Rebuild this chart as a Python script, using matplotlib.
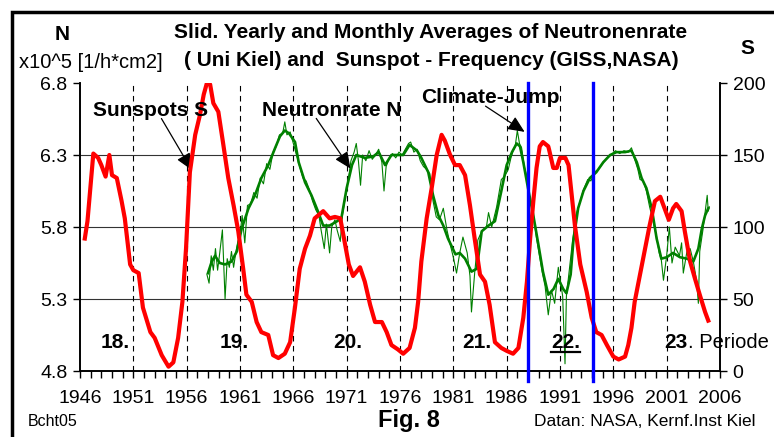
import matplotlib
matplotlib.use("Agg")
import matplotlib.pyplot as plt
from matplotlib.patches import Rectangle

plt.rcParams['font.family'] = ['Liberation Sans', 'DejaVu Sans']

# Sunspot frequency S (sliding yearly average, GISS/NASA) - right axis
sun_year = [1946.45, 1946.7, 1947.25, 1947.7, 1948.0, 1948.4, 1948.75, 1949.0, 1949.45, 1949.9,
            1950.2, 1950.7, 1951.0, 1951.5, 1951.9, 1952.6, 1953.0, 1953.66, 1954.3, 1954.75,
            1955.2, 1955.6, 1955.94, 1956.3, 1956.8, 1957.25, 1957.6, 1957.9, 1958.2, 1958.5,
            1958.97, 1959.4, 1959.9, 1960.4, 1960.84, 1961.3, 1961.6, 1962.1, 1962.56, 1963.0,
            1963.65, 1964.1, 1964.6, 1965.2, 1965.7, 1966.15, 1966.6, 1967.1, 1967.56, 1968.0,
            1968.8, 1969.4, 1969.9, 1970.4, 1970.7, 1971.2, 1971.6, 1972.25, 1972.7, 1973.2,
            1973.66, 1974.3, 1974.75, 1975.2, 1975.8, 1976.3, 1976.9, 1977.4, 1977.7, 1978.0,
            1978.5, 1978.97, 1979.44, 1979.9, 1980.2, 1980.7, 1981.16, 1981.6, 1982.1, 1982.56,
            1983.0, 1983.5, 1983.97, 1984.4, 1984.9, 1985.5, 1986.0, 1986.6, 1987.1, 1987.56,
            1987.9, 1988.2, 1988.5, 1988.8, 1989.1, 1989.4, 1989.9, 1990.0, 1990.37, 1990.7,
            1991.0, 1991.5, 1991.8, 1992.1, 1992.4, 1992.9, 1993.5, 1993.97, 1994.4, 1994.9,
            1995.4, 1996.0, 1996.5, 1997.1, 1997.4, 1997.7, 1998.0, 1998.5, 1998.97, 1999.4,
            1999.9, 2000.4, 2000.7, 2001.2, 2001.6, 2001.9, 2002.4, 2002.7, 2003.2, 2003.66,
            2004.1, 2004.6, 2004.9]
sun_val = [92, 104, 151, 148, 143, 135, 150, 136, 134, 118,
           106, 74, 70, 68, 44, 27, 23, 11, 3, 6,
           23, 48, 85, 138, 164, 178, 192, 200, 199, 186,
           180, 159, 134, 115, 97, 71, 53, 48, 34, 27,
           25, 11, 9, 12, 20, 44, 71, 85, 94, 106,
           111, 106, 107, 106, 94, 74, 66, 72, 62, 46,
           34, 34, 27, 18, 15, 12, 16, 30, 48, 76,
           106, 127, 150, 164, 160, 150, 143, 143, 136, 115,
           92, 67, 62, 46, 20, 16, 14, 12, 16, 37,
           62, 92, 118, 141, 156, 159, 156, 153, 141, 141,
           148, 148, 143, 122, 101, 74, 55, 37, 27, 25,
           18, 10, 8, 10, 18, 30, 48, 67, 85, 101,
           118, 121, 115, 105, 113, 116, 111, 97, 76, 64,
           53, 41, 35]

# Neutron rate N, sliding yearly average (Uni Kiel) - left axis
neu_year = [1958.0, 1958.35, 1958.66, 1959.1, 1959.6, 1960.2, 1960.7, 1961.16, 1961.8, 1962.4,
            1963.0, 1963.65, 1964.3, 1964.75, 1965.2, 1965.6, 1966.16, 1966.5, 1967.1, 1967.7,
            1968.3, 1968.8, 1969.4, 1970.1, 1970.5, 1971.0, 1971.5, 1971.9, 1972.7, 1973.5,
            1974.0, 1974.6, 1975.2, 1975.9, 1976.3, 1976.9, 1977.6, 1978.0, 1978.65, 1979.1,
            1979.6, 1980.06, 1980.5, 1981.2, 1981.6, 1982.1, 1982.7, 1983.2, 1983.66, 1984.3,
            1984.9, 1985.5, 1986.0, 1986.5, 1986.94, 1987.25, 1987.56, 1988.0, 1988.5, 1988.97,
            1989.4, 1989.9, 1990.4, 1990.84, 1991.3, 1991.6, 1992.0, 1992.25, 1992.7, 1993.2,
            1993.8, 1994.4, 1995.06, 1995.7, 1996.3, 1997.1, 1997.7, 1998.2, 1998.65, 1999.1,
            1999.6, 2000.06, 2000.5, 2001.0, 2001.6, 2002.25, 2002.9, 2003.5, 2003.97, 2004.3,
            2004.6, 2004.9]
neu_val = [5.48, 5.56, 5.60, 5.55, 5.54, 5.56, 5.63, 5.79, 5.93, 6.02,
           6.14, 6.23, 6.35, 6.43, 6.47, 6.45, 6.39, 6.25, 6.11, 6.02,
           5.91, 5.81, 5.81, 5.84, 5.86, 6.07, 6.23, 6.30, 6.28, 6.29,
           6.32, 6.23, 6.30, 6.30, 6.30, 6.37, 6.33, 6.28, 6.18, 6.02,
           5.88, 5.81, 5.72, 5.61, 5.62, 5.58, 5.49, 5.51, 5.77, 5.81,
           5.84, 6.05, 6.23, 6.32, 6.38, 6.36, 6.25, 6.07, 5.88, 5.68,
           5.49, 5.33, 5.37, 5.44, 5.37, 5.34, 5.47, 5.70, 5.93, 6.05,
           6.14, 6.18, 6.25, 6.30, 6.32, 6.32, 6.33, 6.25, 6.14, 6.07,
           5.93, 5.72, 5.58, 5.59, 5.62, 5.59, 5.58, 5.56, 5.65, 5.79,
           5.88, 5.93]

# Neutron rate N, monthly values - thin line
mon_year = [1957.9, 1958.1, 1958.3, 1958.5, 1958.7, 1958.9, 1959.1, 1959.35, 1959.5, 1959.6,
            1959.8, 1960.0, 1960.2, 1960.4, 1960.6, 1960.8, 1961.0, 1961.2, 1961.45, 1961.7,
            1962.0, 1962.3, 1962.6, 1962.9, 1963.2, 1963.5, 1963.8, 1964.1, 1964.4, 1964.7,
            1965.0, 1965.2, 1965.4, 1965.7, 1966.0, 1966.3, 1966.6, 1966.9, 1967.2, 1967.5,
            1967.8, 1968.1, 1968.4, 1968.6, 1968.9, 1969.1, 1969.4, 1969.6, 1969.9, 1970.1,
            1970.4, 1970.6, 1970.9, 1971.2, 1971.4, 1971.7, 1971.9, 1972.1, 1972.3, 1972.5,
            1972.8, 1973.1, 1973.4, 1973.7, 1974.0, 1974.3, 1974.5, 1974.7, 1975.0, 1975.3,
            1975.6, 1975.9, 1976.2, 1976.5, 1976.8, 1977.0, 1977.3, 1977.6, 1977.9, 1978.2,
            1978.5, 1978.8, 1979.1, 1979.4, 1979.7, 1980.06, 1980.4, 1980.7, 1981.0, 1981.3,
            1981.6, 1981.9, 1982.3, 1982.56, 1982.7, 1983.0, 1983.3, 1983.6, 1983.8, 1984.1,
            1984.3, 1984.6, 1985.06, 1985.5, 1985.8, 1986.15, 1986.4, 1986.6, 1986.8, 1987.0,
            1987.2, 1987.4, 1987.65, 1987.9, 1988.2, 1988.5, 1988.8, 1989.1, 1989.35, 1989.6,
            1989.9, 1990.2, 1990.5, 1990.84, 1991.0, 1991.25, 1991.47, 1991.6, 1991.94, 1992.2,
            1992.56, 1992.9, 1993.2, 1993.6, 1993.9, 1994.2, 1994.6, 1995.0, 1995.4, 1995.8,
            1996.2, 1996.6, 1997.0, 1997.4, 1997.7, 1998.0, 1998.3, 1998.5, 1998.8, 1999.1,
            1999.4, 1999.7, 2000.06, 2000.3, 2000.5, 2000.7, 2001.0, 2001.25, 2001.5, 2001.8,
            2002.2, 2002.4, 2002.56, 2002.9, 2003.2, 2003.5, 2003.8, 2003.97, 2004.1, 2004.4,
            2004.6, 2004.8, 2004.9, 2005.0]
mon_val = [5.47, 5.41, 5.60, 5.50, 5.65, 5.50, 5.62, 5.78, 5.50, 5.30,
           5.58, 5.52, 5.63, 5.52, 5.62, 5.70, 5.74, 5.88, 5.69, 5.95,
           5.96, 6.04, 6.00, 6.14, 6.10, 6.24, 6.20, 6.32, 6.36, 6.44,
           6.45, 6.53, 6.44, 6.46, 6.38, 6.30, 6.22, 6.14, 6.12, 6.06,
           5.98, 5.92, 5.88, 5.78, 5.65, 5.82, 5.62, 5.80, 5.85, 5.78,
           5.70, 5.88, 6.02, 6.15, 6.26, 6.32, 6.38, 6.26, 6.09, 6.30,
           6.26, 6.33, 6.27, 6.30, 6.34, 6.25, 6.05, 6.22, 6.28, 6.31,
           6.28, 6.32, 6.30, 6.34, 6.38, 6.39, 6.32, 6.34, 6.26, 6.22,
           6.20, 6.17, 5.98, 5.87, 5.85, 5.93, 5.78, 5.68, 5.59, 5.48,
           5.62, 5.73, 5.62, 5.46, 5.21, 5.48, 5.71, 5.76, 5.78, 5.80,
           5.90, 5.80, 5.94, 6.13, 6.15, 6.20, 6.28, 6.33, 6.36, 6.47,
           6.38, 6.35, 6.22, 6.15, 5.98, 5.89, 5.72, 5.59, 5.48, 5.39,
           5.19, 5.36, 5.27, 5.52, 5.44, 5.32, 4.85, 5.32, 5.55, 5.72,
           5.90, 5.98, 6.06, 6.13, 6.12, 6.18, 6.20, 6.24, 6.28, 6.30,
           6.33, 6.31, 6.33, 6.32, 6.35, 6.27, 6.20, 6.13, 6.12, 6.05,
           5.94, 5.85, 5.73, 5.62, 5.57, 5.43, 5.60, 5.80, 5.55, 5.66,
           5.60, 5.69, 5.48, 5.63, 5.65, 5.56, 5.43, 5.27, 5.63, 5.78,
           5.90, 6.02, 5.91, 5.94]

climate_jump = [1988.0, 1994.05]
periods = ['18.', '19.', '20.', '21.', '22.', '23']
period_x = [1949.3, 1960.5, 1971.1, 1983.2, 1991.5, 2001.9]
year_ticks = list(range(1946, 2007, 5))
n_ticks = [4.8, 5.3, 5.8, 6.3, 6.8]
s_ticks = [0, 50, 100, 150, 200]

W, H = 774, 437
fig = plt.figure(figsize=(W / 100, H / 100), dpi=100)
ax = fig.add_axes([80 / W, 1 - 371 / H, 640 / W, 288 / H])
ax2 = ax.twinx()

def px(x, y):
    return x / W, 1 - y / H

# grid: solid horizontals, dashed verticals
for v in n_ticks[1:-1]:
    ax.axhline(v, color='#333333', lw=0.8, zorder=1)
for yr in year_ticks[1:-1]:
    ax.axvline(yr, color='black', lw=0.8, ls=(0, (5, 4)), zorder=1)

ax.plot(mon_year, mon_val, color='#008000', lw=0.8, zorder=3)
ax.plot(neu_year, neu_val, color='#008000', lw=1.9, zorder=4)
ax2.plot(sun_year, sun_val, color='#ff0000', lw=3.0, zorder=5, solid_joinstyle='round')
for cj in climate_jump:
    ax2.axvline(cj, ymin=-0.035, ymax=1.0, color='#0000ff', lw=2.4, zorder=6, clip_on=False)

ax.set_xlim(1946, 2006)
ax.set_ylim(4.8, 6.8)
ax2.set_ylim(0, 200)
ax.set_xticks(year_ticks)
ax.set_xticks(range(1946, 2007), minor=True)
ax.set_yticks(n_ticks)
ax.set_yticklabels([f'{v:.1f}' for v in n_ticks])
ax2.set_yticks(s_ticks)

for a in (ax, ax2):
    a.spines['top'].set_visible(False)
    for s in ('left', 'right', 'bottom'):
        a.spines[s].set_linewidth(1.2)
ax.tick_params(axis='both', which='both', direction='out', length=5, width=1, labelsize=14, pad=4)
ax.tick_params(axis='x', which='major', pad=9)
ax2.tick_params(axis='y', direction='out', length=5, width=1, labelsize=14, pad=4)

# period labels
for lab, xp in zip(periods, period_x):
    ax2.text(xp, 20, lab, fontsize=15, fontweight='bold', ha='center', va='center', zorder=7)
ax2.plot([1990.2, 1992.85], [13.5, 13.5], color='black', lw=1.6, zorder=7)
ax2.text(2003.0, 20, '. Periode', fontsize=14.5, ha='left', va='center', clip_on=False)

# annotations
arrow = dict(arrowstyle='-|>,head_length=1.0,head_width=0.45', color='black', lw=0.9)
ax2.text(1952.6, 181, 'Sunspots S', fontsize=15, fontweight='bold', ha='center', va='center', zorder=8)
ax2.annotate('', xy=(1956.6, 138), xytext=(1953.5, 177), arrowprops=arrow)
ax2.text(1969.6, 181, 'Neutronrate N', fontsize=15, fontweight='bold', ha='center', va='center', zorder=8)
ax2.annotate('', xy=(1971.5, 139), xytext=(1968.0, 177), arrowprops=arrow)
ax2.text(1984.5, 190, 'Climate-Jump', fontsize=15, fontweight='bold', ha='center', va='center', zorder=8)
ax2.annotate('', xy=(1987.9, 165), xytext=(1983.8, 185), arrowprops=arrow)

# header and footer texts
fig.text(*px(431, 32), 'Slid. Yearly and Monthly Averages of Neutronenrate',
         fontsize=15, fontweight='bold', ha='center', va='center')
fig.text(*px(431, 60), '( Uni Kiel) and  Sunspot - Frequency (GISS,NASA)',
         fontsize=15, fontweight='bold', ha='center', va='center')
fig.text(*px(62, 35), 'N', fontsize=15, fontweight='bold', ha='center', va='center')
fig.text(*px(19, 63), 'x10^5 [1/h*cm2]', fontsize=14.5, ha='left', va='center')
fig.text(*px(747, 49), 'S', fontsize=15, fontweight='bold', ha='center', va='center')
fig.text(*px(28, 422), 'Bcht05', fontsize=11.5, ha='left', va='center')
fig.text(*px(409, 420), 'Fig. 8', fontsize=17, fontweight='bold', ha='center', va='center')
fig.text(*px(755, 422), 'Datan: NASA, Kernf.Inst Kiel', fontsize=12.5, ha='right', va='center')

# outer frame of the figure
fig.patches.append(Rectangle((12 / W, -0.1), 1.2, 1.1 - 12 / H, transform=fig.transFigure,
                             fill=False, edgecolor='black', lw=2.5))

fig.savefig('out.png', dpi=100)
